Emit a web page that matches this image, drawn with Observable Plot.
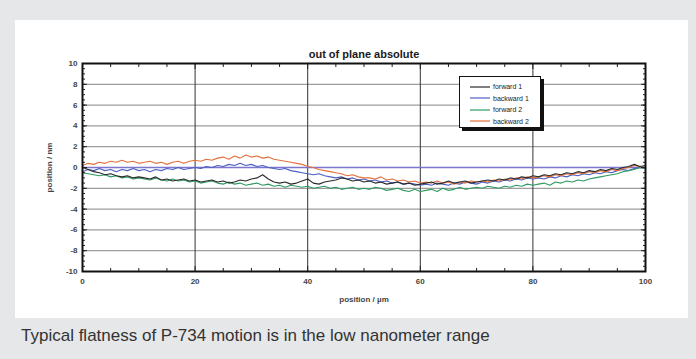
<!DOCTYPE html>
<html>
<head>
<meta charset="utf-8">
<script src="https://cdn.jsdelivr.net/npm/d3@7"></script>
<script src="https://cdn.jsdelivr.net/npm/@observablehq/plot@0.6"></script>
<style>
  html, body { margin: 0; padding: 0; }
  body {
    width: 696px; height: 359px; position: relative; overflow: hidden;
    background: #e6e7e8;
    font-family: "Liberation Sans", Arial, Helvetica, sans-serif;
  }
  #panel { position: absolute; left: 15px; top: 20px; width: 673px; height: 298px; background: #fff; }
  #chart { position: absolute; left: 0; top: 0; }
  #legend {
    position: absolute; left: 459px; top: 76px; width: 82px; height: 52px;
    background: #fff; border: 1px solid #111; box-shadow: 3px 3px 0 #111;
    box-sizing: border-box; padding-top: 4px;
  }
  #legend .row { height: 11.5px; display: flex; align-items: center; font-size: 7px; color: #222; }
  #legend svg { margin-left: 10px; margin-right: 3px; }
  .caption {
    position: absolute; left: 21px; top: 326px; line-height: 20px;
    font-size: 17px; color: #333; white-space: nowrap;
  }
</style>
</head>
<body>
<div id="panel"></div>
<div id="chart"></div>
<div id="legend"></div>
<div class="caption">Typical flatness of P-734 motion is in the low nanometer range</div>
<script>
// Stage position along the travel (µm), sampled every 1 µm
const positions = d3.range(0, 101);

// Out-of-plane deviation (nm) for each scan
const forward1 = [
  0.0, -0.2, -0.4, -0.5, -0.7, -0.6, -0.8, -0.9, -0.8, -1.0, -0.9,
  -1.0, -1.1, -0.9, -1.2, -1.1, -1.3, -1.2, -1.1, -1.3, -1.2,
  -1.4, -1.3, -1.2, -1.4, -1.3, -1.5, -1.4, -1.2, -1.3, -1.1,
  -1.0, -0.7, -1.1, -1.4, -1.5, -1.4, -1.6, -1.5, -1.3, -1.1,
  -1.5, -1.6, -1.4, -1.3, -1.2, -1.0, -1.1, -1.3, -1.2, -1.4,
  -1.3, -1.5, -1.4, -1.6, -1.5, -1.4, -1.6, -1.5, -1.7, -1.6,
  -1.5, -1.4, -1.6, -1.5, -1.3, -1.5, -1.4, -1.3, -1.5, -1.4,
  -1.3, -1.2, -1.3, -1.1, -1.2, -1.0, -1.1, -0.9, -1.0, -0.8,
  -0.9, -0.7, -0.8, -0.6, -0.7, -0.5, -0.6, -0.4, -0.5, -0.3,
  -0.4, -0.2, -0.3, -0.1, -0.2, 0.0, 0.1, 0.3, 0.1, 0.2
];
const backward1 = [
  -0.4, -0.2, -0.3, -0.1, -0.3, -0.2, -0.4, -0.2, -0.3, -0.1, -0.3,
  -0.2, -0.4, -0.2, -0.3, -0.1, -0.2, 0.0, -0.2, -0.1, 0.0,
  -0.1, 0.1, 0.0, 0.2, 0.1, 0.3, 0.2, 0.4, 0.2, 0.3,
  0.1, 0.2, 0.0, -0.1, -0.2, -0.1, -0.3, -0.4, -0.5, -0.6,
  -0.7, -0.6, -0.8, -0.9, -1.0, -0.9, -1.1, -1.0, -1.2, -1.1,
  -1.3, -1.2, -1.4, -1.3, -1.5, -1.4, -1.6, -1.5, -1.6, -1.7,
  -1.6, -1.7, -1.5, -1.6, -1.7, -1.5, -1.6, -1.4, -1.5, -1.6,
  -1.4, -1.5, -1.3, -1.4, -1.2, -1.3, -1.1, -1.2, -1.0, -1.1,
  -1.0, -1.1, -0.9, -1.0, -0.8, -0.9, -0.7, -0.8, -0.6, -0.7,
  -0.5, -0.6, -0.4, -0.5, -0.3, -0.2, -0.3, -0.1, 0.0, -0.1
];
const forward2 = [
  -0.5, -0.6, -0.7, -0.8, -0.7, -0.9, -0.8, -1.0, -0.9, -1.1, -1.0,
  -1.1, -1.2, -1.0, -1.2, -1.3, -1.1, -1.3, -1.2, -1.4, -1.3,
  -1.5, -1.4, -1.3, -1.5, -1.6, -1.4, -1.6, -1.5, -1.7, -1.6,
  -1.5, -1.7, -1.6, -1.8, -1.7, -1.9, -1.7, -1.8, -1.9, -1.8,
  -2.0, -1.9, -1.8, -2.0, -1.9, -2.1, -2.0, -1.9, -2.1, -2.0,
  -2.1, -1.9, -2.0, -2.2, -2.1, -2.0, -2.2, -2.3, -2.1, -2.3,
  -2.2, -2.1, -2.3, -2.0, -2.2, -2.1, -1.9, -2.1, -2.0, -1.9,
  -2.0, -1.8, -1.9, -2.0, -1.8, -1.9, -1.7, -1.8, -1.6, -1.7,
  -1.6, -1.5, -1.7, -1.4, -1.5, -1.3, -1.4, -1.2, -1.3, -1.1,
  -1.0, -0.9, -0.8, -0.7, -0.6, -0.4, -0.3, -0.2, 0.0, -0.1
];
const backward2 = [
  0.2, 0.4, 0.3, 0.5, 0.4, 0.6, 0.5, 0.7, 0.5, 0.6, 0.4,
  0.5, 0.6, 0.4, 0.5, 0.3, 0.5, 0.6, 0.4, 0.6, 0.7,
  0.6, 0.8, 0.7, 0.9, 1.0, 0.8, 1.1, 0.9, 1.2, 1.0,
  1.1, 0.9, 1.0, 0.8, 0.7, 0.6, 0.5, 0.4, 0.3, 0.1,
  0.0, -0.2, -0.3, -0.4, -0.5, -0.6, -0.8, -0.7, -0.9, -1.0,
  -1.0, -1.1, -0.9, -1.2, -1.1, -1.3, -1.2, -1.4, -1.3, -1.5,
  -1.4, -1.5, -1.3, -1.5, -1.4, -1.6, -1.4, -1.5, -1.3, -1.4,
  -1.3, -1.4, -1.2, -1.3, -1.1, -1.2, -1.0, -1.1, -0.9, -1.0,
  -0.9, -0.8, -0.9, -0.7, -0.8, -0.6, -0.7, -0.5, -0.6, -0.4,
  -0.5, -0.3, -0.4, -0.2, -0.3, -0.1, 0.0, 0.2, 0.1, 0.0
];

const seriesNames = ["forward 1", "backward 1", "forward 2", "backward 2"];
const seriesColors = ["#2a2a2a", "#4c5fc4", "#2f9a62", "#e4703c"];
const seriesValues = [forward1, backward1, forward2, backward2];
// back-to-front drawing order
const drawOrder = ["backward 1", "forward 2", "backward 2", "forward 1"];

// Axis ticks
const yMajor = [-10, -8, -6, -4, -2, 0, 2, 4, 6, 8, 10];
const yMinor = d3.range(-10, 10.01, 0.5);
const xMajor = [0, 20, 40, 60, 80, 100];
const xMinor = [5, 10, 15, 25, 30, 35, 45, 50, 55, 65, 70, 75, 85, 90, 95];

const rows = drawOrder.flatMap(name => {
  const vals = seriesValues[seriesNames.indexOf(name)];
  return positions.map((x, i) => ({x, y: vals[i], series: name}));
});

const axisFont = {fontWeight: "bold", fontSize: 8, fill: "#444", tickFormat: d => String(d)};

const chart = Plot.plot({
  width: 696,
  height: 320,
  marginLeft: 82,
  marginRight: 51,
  marginTop: 63,
  marginBottom: 49,
  style: {background: "transparent", fontFamily: "'Liberation Sans', Arial, sans-serif", overflow: "visible"},
  x: {domain: [0, 100]},
  y: {domain: [-10, 10]},
  color: {domain: seriesNames, range: seriesColors},
  marks: [
    Plot.gridY(yMajor, {stroke: "#858585", strokeOpacity: 1, strokeWidth: 1}),
    Plot.gridX(xMajor.slice(1, -1), {stroke: "#333", strokeOpacity: 1, strokeWidth: 1}),
    Plot.ruleY([0], {stroke: "#7d76cc", strokeWidth: 1.6}),
    Plot.line(rows, {x: "x", y: "y", z: "series", stroke: "series", strokeWidth: 1.1}),
    // tick labels and axis titles
    Plot.axisY(yMajor, {anchor: "left", tickSize: 0, tickPadding: 5, ...axisFont,
      label: "position / nm", labelAnchor: "center", labelOffset: 36, labelArrow: "none"}),
    Plot.axisX(xMajor, {anchor: "bottom", tickSize: 0, tickPadding: 7, ...axisFont,
      label: "position / µm", labelAnchor: "center", labelOffset: 30, labelArrow: "none"}),
    // inward ticks on all four sides
    Plot.axisY(yMinor, {anchor: "left", text: null, tickSize: -3, stroke: "#222", label: null}),
    Plot.axisY(yMajor, {anchor: "left", text: null, tickSize: -5, stroke: "#222", label: null}),
    Plot.axisY(yMinor, {anchor: "right", text: null, tickSize: -3, stroke: "#222", label: null}),
    Plot.axisY(yMajor, {anchor: "right", text: null, tickSize: -5, stroke: "#222", label: null}),
    Plot.axisX(xMinor, {anchor: "bottom", text: null, tickSize: -3, stroke: "#222", label: null}),
    Plot.axisX(xMajor, {anchor: "bottom", text: null, tickSize: -5, stroke: "#222", label: null}),
    Plot.axisX(xMinor, {anchor: "top", text: null, tickSize: -3, stroke: "#222", label: null}),
    Plot.axisX(xMajor, {anchor: "top", text: null, tickSize: -5, stroke: "#222", label: null}),
    Plot.frame({stroke: "#111", strokeWidth: 2}),
    Plot.text(["out of plane absolute"], {frameAnchor: "top", dy: -13, fontWeight: "bold", fontSize: 11, fill: "#1a1a1a"})
  ]
});
document.getElementById("chart").appendChild(chart);

// Legend box
const legend = d3.select("#legend");
seriesNames.forEach((name, i) => {
  const row = legend.append("div").attr("class", "row");
  const svg = row.append("svg").attr("width", 20).attr("height", 6);
  svg.append("line").attr("x1", 0).attr("x2", 20).attr("y1", 3).attr("y2", 3)
    .attr("stroke", seriesColors[i]).attr("stroke-width", 1.2);
  row.append("span").text(name);
});
</script>
</body>
</html>
